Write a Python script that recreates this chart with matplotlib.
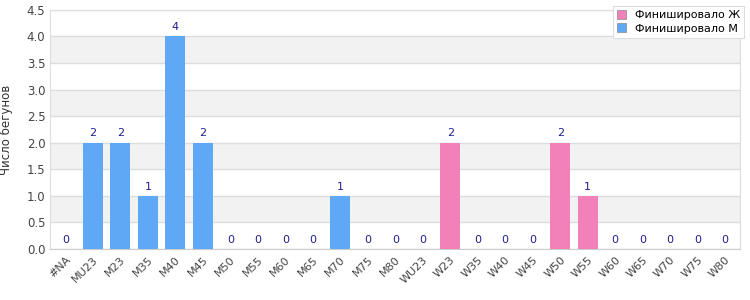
import numpy as np
import matplotlib.pyplot as plt
from matplotlib.patches import Patch

categories = ['#NA', 'MU23', 'M23', 'M35', 'M40', 'M45', 'M50', 'M55', 'M60', 'M65',
              'M70', 'M75', 'M80', 'WU23', 'W23', 'W35', 'W40', 'W45', 'W50', 'W55',
              'W60', 'W65', 'W70', 'W75', 'W80']
men = [0, 2, 2, 1, 4, 2, 0, 0, 0, 0, 1, 0, 0, 0, 0, 0, 0, 0, 0, 0, 0, 0, 0, 0, 0]
women = [0, 0, 0, 0, 0, 0, 0, 0, 0, 0, 0, 0, 0, 0, 2, 0, 0, 0, 2, 1, 0, 0, 0, 0, 0]

blue = '#5fa8f5'
pink = '#f280b9'

fig = plt.figure(figsize=(7.5, 3), dpi=100)
ax = fig.add_axes([0.067, 0.17, 0.92, 0.797])

x = np.arange(len(categories))
ax.bar(x, men, width=0.72, color=blue, zorder=3)
ax.bar(x, women, width=0.72, bottom=men, color=pink, zorder=3)

# totals above bars
totals = np.array(men) + np.array(women)
for xi, t in zip(x, totals):
    ax.text(xi, t + 0.08, str(t), ha='center', va='bottom', fontsize=8, color='#1f1f8f', zorder=4)

ax.set_xlim(-0.55, len(categories) - 0.45)
ax.set_ylim(0, 4.5)
ax.set_yticks(np.arange(0, 4.51, 0.5))

# alternating bands
for lo in np.arange(0.5, 4.5, 1.0):
    ax.axhspan(lo, lo + 0.5, color='#f2f2f2', zorder=0, lw=0)
ax.grid(axis='y', color='#dddddd', lw=1, zorder=1)

ax.set_xticks(x)
ax.set_xticklabels(categories, rotation=45, ha='right', rotation_mode='anchor', fontsize=8, color='#444444')
ax.tick_params(axis='y', labelsize=8.5, labelcolor='#444444', length=0)
ax.tick_params(axis='x', length=0, pad=4)

for s in ['top', 'right', 'left']:
    ax.spines[s].set_color('#dddddd')
ax.spines['bottom'].set_color('#cccccc')

ax.set_ylabel('Число бегунов', fontsize=8.5, color='#333333')
ax.yaxis.set_label_coords(-0.054, 0.5)

handles = [Patch(facecolor=pink, edgecolor='#888888', lw=0.5, label='Финишировало Ж'),
           Patch(facecolor=blue, edgecolor='#888888', lw=0.5, label='Финишировало М')]
leg = fig.legend(handles=handles, loc='upper right', bbox_to_anchor=(1.0, 1.0), fontsize=8,
                 handlelength=0.8, handleheight=0.8, handletextpad=0.8, labelspacing=0.3,
                 fancybox=False, framealpha=1, edgecolor='#dddddd', borderpad=0.4)
leg.get_frame().set_linewidth(0.8)

plt.savefig('out.png')
